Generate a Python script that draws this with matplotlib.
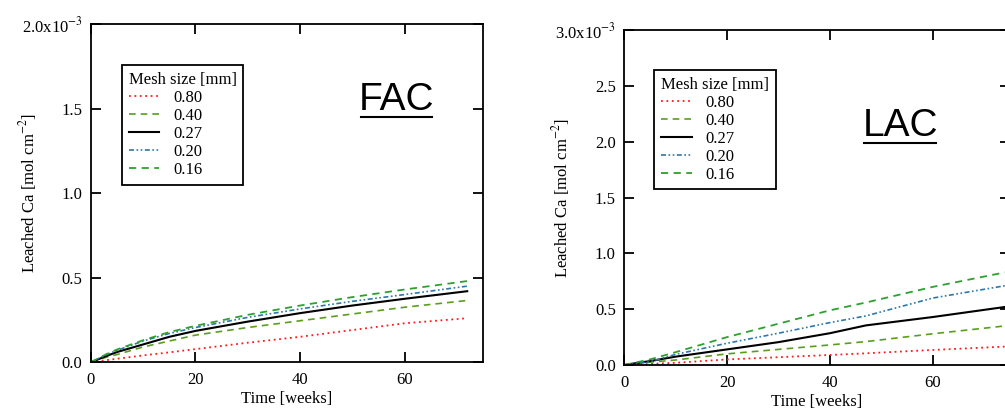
import numpy as np
import matplotlib
matplotlib.use("Agg")
import matplotlib.pyplot as plt
from matplotlib.ticker import FuncFormatter, MultipleLocator
from matplotlib.lines import Line2D

plt.rcParams['font.family'] = ['Liberation Serif', 'DejaVu Serif']
plt.rcParams['mathtext.fontset'] = 'stix'
plt.rcParams['font.size'] = 12

# mesh sizes (legend labels)
mesh_labels = ["0.80", "0.40", "0.27", "0.20", "0.16"]

# FAC: leached Ca [1e-3 mol/cm2] vs time [weeks]
fac_time = [0, 1, 3, 5, 10, 15, 20, 30, 40, 50, 60, 72]
fac_080 = [0, 0.003, 0.012, 0.02, 0.04, 0.058, 0.077, 0.115, 0.15, 0.19, 0.23, 0.26]
fac_040 = [0, 0.01, 0.03, 0.045, 0.09, 0.125, 0.16, 0.205, 0.245, 0.285, 0.325, 0.365]
fac_027 = [0, 0.012, 0.037, 0.06, 0.105, 0.15, 0.185, 0.24, 0.29, 0.335, 0.375, 0.42]
fac_020 = [0, 0.015, 0.045, 0.07, 0.125, 0.17, 0.205, 0.265, 0.315, 0.36, 0.40, 0.45]
fac_016 = [0, 0.016, 0.048, 0.075, 0.13, 0.178, 0.215, 0.28, 0.335, 0.385, 0.43, 0.48]

# LAC
lac_time = [0, 2, 5, 10, 20, 30, 40, 47, 60, 74]
lac_080 = [0, 0.004, 0.01, 0.02, 0.05, 0.07, 0.09, 0.105, 0.135, 0.165]
lac_040 = [0, 0.01, 0.025, 0.045, 0.10, 0.14, 0.18, 0.21, 0.28, 0.35]
lac_027 = [0, 0.015, 0.035, 0.075, 0.14, 0.205, 0.285, 0.355, 0.43, 0.52]
lac_020 = [0, 0.01, 0.03, 0.095, 0.195, 0.285, 0.38, 0.44, 0.60, 0.71]
lac_016 = [0, 0.02, 0.05, 0.115, 0.25, 0.37, 0.49, 0.56, 0.70, 0.83]

styles = [
    dict(color="#ff1a1a", lw=1.3, dashes=(1, 2)),
    dict(color="#5a9e1e", lw=1.2, dashes=(4, 3)),
    dict(color="black", lw=1.5, ls="-"),
    dict(color="#2b78ad", lw=1.2, dashes=(3, 1.5, 1, 1.5, 1, 1.5)),
    dict(color="#2ea02e", lw=1.3, dashes=(4, 3)),
]

fig = plt.figure(figsize=(10.05, 4.12), dpi=100)
ax1 = fig.add_axes([0.0905, 0.121, 0.390, 0.820])
ax2 = fig.add_axes([0.621, 0.114, 0.384, 0.813])


def setup(ax, series, time, ymax, name, txt_xy, leg_xy, ylab_x):
    for y, lab, st in zip(series, mesh_labels, styles):
        ax.plot(time, np.array(y) * 1e-3, label=lab, **st)
    ax.set_xlim(0, 75)
    ax.set_ylim(0, ymax)
    ax.xaxis.set_major_locator(MultipleLocator(20))
    ax.yaxis.set_major_locator(MultipleLocator(0.5e-3))

    def fmt(v, pos):
        if abs(v - ymax) < 1e-9:
            return "%.1fx10$^{-3}$" % (v * 1e3)
        return "%.1f" % (v * 1e3)
    ax.yaxis.set_major_formatter(FuncFormatter(fmt))
    ax.tick_params(direction="in", length=7, width=1.3, top=True, right=True,
                   labelsize=12)
    ax.tick_params(axis="x", pad=7)
    ax.tick_params(axis="y", pad=6)
    for s in ax.spines.values():
        s.set_linewidth(1.3)
    ax.set_xlabel("Time [weeks]", fontsize=12, labelpad=2)
    ax.set_ylabel("Leached Ca [mol cm$^{-2}$]", fontsize=12)
    ax.yaxis.set_label_coords(ylab_x, 0.5)
    leg = ax.legend(title="Mesh size [mm]", loc="upper left", bbox_to_anchor=leg_xy,
                    borderaxespad=0, fancybox=False, edgecolor="black", framealpha=1,
                    handlelength=1.85, handletextpad=0.85, labelspacing=0.12,
                    borderpad=0.4, fontsize=12, title_fontsize=12,
                    alignment="left")
    leg.get_frame().set_linewidth(1.3)
    t = ax.text(txt_xy[0], txt_xy[1], name, transform=ax.transAxes,
                ha="center", va="center", fontsize=28,
                family=["Liberation Sans", "DejaVu Sans"])
    return t


t1 = setup(ax1, [fac_080, fac_040, fac_027, fac_020, fac_016], fac_time,
           2.0e-3, "FAC", (0.78, 0.775), (0.079, 0.879), -0.133)
t2 = setup(ax2, [lac_080, lac_040, lac_027, lac_020, lac_016], lac_time,
           3.0e-3, "LAC", (0.715, 0.715), (0.078, 0.881), -0.134)

# underline the panel names
fig.canvas.draw()
inv = fig.transFigure.inverted()
for t in (t1, t2):
    bb = t.get_window_extent()
    (x0, y0), (x1, _) = inv.transform([[bb.x0, bb.y0], [bb.x1, bb.y1]])
    fig.add_artist(Line2D([x0 + 0.002, x1 - 0.002], [y0 + 0.002, y0 + 0.002],
                          color="black", lw=1.5, transform=fig.transFigure))

fig.savefig("out.png", dpi=100)
